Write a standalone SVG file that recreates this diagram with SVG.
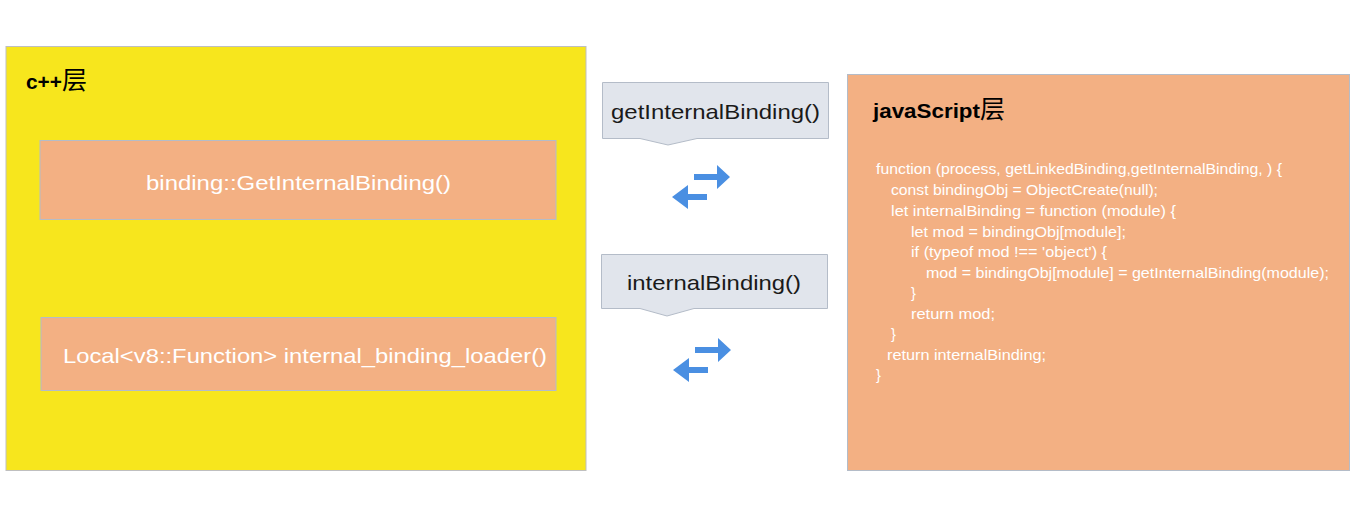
<svg xmlns="http://www.w3.org/2000/svg" width="1363" height="513" viewBox="0 0 1363 513">
<defs>
<style>
.layer{fill:#F7E61D;stroke:#BFBFBF;stroke-width:1}
.box{fill:#F3B083;stroke:#B4BCC8;stroke-width:1}
.call{fill:#E1E5EC;stroke:#B4BCC8;stroke-width:1}
.arr{fill:#4A8FE2}
.t{font-family:"Liberation Sans","Noto Sans CJK SC",sans-serif}
.w{fill:#FFFFFF;font-size:21px}
.title{font-size:21px;font-weight:bold;fill:#000}
.cjk{font-family:"Noto Sans CJK SC",sans-serif;font-size:25px;fill:#000}
.lbl{fill:#1A1A1A;font-size:21px}
.code{fill:#FFFFFF;font-size:14.5px}
</style>
</defs>
<rect width="1363" height="513" fill="#FFFFFF"/>
<g id="cpp-layer">
<rect class="layer" x="6" y="46.5" width="580" height="424"/>
<text class="t title" x="26" y="89" textLength="36" lengthAdjust="spacingAndGlyphs">c++</text>
<text class="cjk" x="62" y="89">层</text>
</g>
<g id="get-internal-binding">
<rect class="box" x="40" y="140.5" width="516" height="79"/>
<text class="t w" x="146" y="190" textLength="305" lengthAdjust="spacingAndGlyphs">binding::GetInternalBinding()</text>
</g>
<g id="internal-binding-loader">
<rect class="box" x="41" y="317.5" width="515" height="73"/>
<text class="t w" x="63" y="363" textLength="484" lengthAdjust="spacingAndGlyphs">Local&lt;v8::Function&gt; internal_binding_loader()</text>
</g>
<g id="callout-get">
<path class="call" d="M602.5 82.5 H828.5 V138.5 H697 L668 145 L640 138.5 H602.5 Z"/>
<text class="t lbl" x="611" y="119" textLength="209" lengthAdjust="spacingAndGlyphs">getInternalBinding()</text>
</g>
<g id="callout-internal">
<path class="call" d="M601.5 254.5 H827.5 V308.5 H694 L667 316 L640 308.5 H601.5 Z"/>
<text class="t lbl" x="627" y="290" textLength="174" lengthAdjust="spacingAndGlyphs">internalBinding()</text>
</g>
<g id="js-layer">
<rect class="box" x="847.5" y="74.5" width="502" height="396"/>
<text class="t title" x="873" y="118" textLength="107" lengthAdjust="spacingAndGlyphs">javaScript</text>
<text class="cjk" x="980" y="118">层</text>
<g class="t code">
<text x="876" y="174" textLength="406" lengthAdjust="spacingAndGlyphs">function (process, getLinkedBinding,getInternalBinding, ) {</text>
<text x="891" y="195" textLength="267" lengthAdjust="spacingAndGlyphs">const bindingObj = ObjectCreate(null);</text>
<text x="891" y="216" textLength="285" lengthAdjust="spacingAndGlyphs">let internalBinding  = function (module) {</text>
<text x="911" y="237" textLength="215" lengthAdjust="spacingAndGlyphs">let mod = bindingObj[module];</text>
<text x="911" y="257" textLength="196" lengthAdjust="spacingAndGlyphs">if (typeof mod !== 'object') {</text>
<text x="926" y="278" textLength="403" lengthAdjust="spacingAndGlyphs">mod = bindingObj[module] = getInternalBinding(module);</text>
<text x="911" y="298">}</text>
<text x="911" y="319" textLength="84" lengthAdjust="spacingAndGlyphs">return mod;</text>
<text x="891" y="339">}</text>
<text x="887" y="360" textLength="159" lengthAdjust="spacingAndGlyphs">return internalBinding;</text>
<text x="876" y="380">}</text>
</g>
</g>
<g id="connectors">
<g id="swap-1">
<polygon class="arr" points="694,174 717,174 717,165 730,177 717,189 717,180 694,180"/>
<polygon class="arr" points="707,194 688,194 688,185 672,197 688,209 688,200 707,200"/>
</g>
<g id="swap-2">
<polygon class="arr" points="695,347 718,347 718,338 731,350 718,362 718,353 695,353"/>
<polygon class="arr" points="708,367 689,367 689,358 673,370 689,382 689,373 708,373"/>
</g>
</g>
</svg>
